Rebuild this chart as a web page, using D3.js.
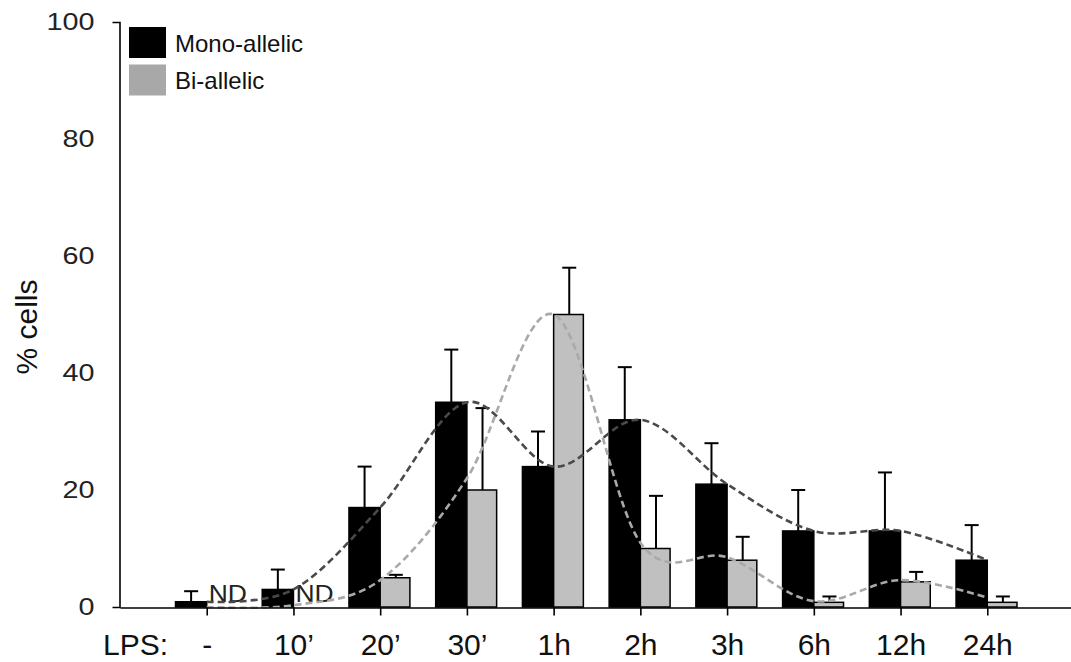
<!DOCTYPE html>
<html>
<head>
<meta charset="utf-8">
<script src="https://cdn.jsdelivr.net/npm/d3@7"></script>
<style>
  html, body { margin: 0; padding: 0; background: #fff; }
  svg { display: block; font-family: "Liberation Sans", Arial, sans-serif; }
</style>
</head>
<body>
<svg id="chart" width="1071" height="662"></svg>
<script>
// LPS stimulation time points
const categories = ["-", "10\u2019", "20\u2019", "30\u2019", "1h", "2h", "3h", "6h", "12h", "24h"];

// % cells with mono-allelic expression (mean and upper error)
const monoValues = [0.9, 3, 17, 35, 24, 32, 21, 13, 13, 8];
const monoErrors = [1.8, 3.4, 7, 9, 6, 9, 7, 7, 10, 6];

// % cells with bi-allelic expression (null = not determined)
const biValues = [null, null, 5, 20, 50, 10, 8, 0.8, 4.3, 0.8];
const biErrors = [null, null, 0.5, 14, 8, 9, 4, 1, 1.7, 1];

// smoothed trend lines drawn over the bars
const monoTrend = [0.9, 3, 17, 35, 24, 32, 21, 13, 13, 8];
const biTrend = [0, 0.3, 4.6, 22, 50, 11, 8.5, 1, 4.6, 1.6];

const yTicks = [0, 20, 40, 60, 80, 100];

const svg = d3.select("#chart");

const x = d3.scalePoint().domain(categories).range([120, 1074]).padding(1);
const y = d3.scaleLinear().domain([0, 100]).range([607, 22]);
const step = x.step();
const barW = step * 0.36;

const BLACK = "#000";
const GREY = "#c0c0c0";

// bars
const gBars = svg.append("g");
gBars.selectAll("rect.mono")
  .data(categories)
  .join("rect")
  .attr("class", "mono")
  .attr("x", (d) => x(d) - barW)
  .attr("y", (d, i) => y(monoValues[i]))
  .attr("width", barW)
  .attr("height", (d, i) => y(0) - y(monoValues[i]))
  .attr("fill", BLACK)
  .attr("stroke", "#000")
  .attr("stroke-width", 1.5);

const biIdx = categories.map((d, i) => i).filter((i) => biValues[i] != null);
gBars.selectAll("rect.bi")
  .data(biIdx)
  .join("rect")
  .attr("class", "bi")
  .attr("x", (i) => x(categories[i]))
  .attr("y", (i) => y(biValues[i]))
  .attr("width", barW - 1.5)
  .attr("height", (i) => y(0) - y(biValues[i]))
  .attr("fill", GREY)
  .attr("stroke", "#000")
  .attr("stroke-width", 1.5);

// error bars (upper whisker only)
const capW = 14;
function whiskers(cls, idx, cx, vals, errs) {
  const g = svg.append("g").attr("class", cls)
    .attr("stroke", "#000").attr("stroke-width", 2);
  g.selectAll("line.v").data(idx).join("line").attr("class", "v")
    .attr("x1", cx).attr("x2", cx)
    .attr("y1", (i) => y(vals[i])).attr("y2", (i) => y(vals[i] + errs[i]));
  g.selectAll("line.c").data(idx).join("line").attr("class", "c")
    .attr("x1", (i) => cx(i) - capW / 2).attr("x2", (i) => cx(i) + capW / 2)
    .attr("y1", (i) => y(vals[i] + errs[i])).attr("y2", (i) => y(vals[i] + errs[i]));
}
whiskers("err-mono", categories.map((d, i) => i), (i) => x(categories[i]) - barW / 2, monoValues, monoErrors);
whiskers("err-bi", biIdx, (i) => x(categories[i]) + barW / 2, biValues, biErrors);

// ND labels where bi-allelic was not determined
svg.append("g").selectAll("text")
  .data(categories.map((d, i) => i).filter((i) => biValues[i] == null))
  .join("text")
  .attr("x", (i) => x(categories[i]) + 2)
  .attr("y", 602)
  .attr("font-size", 23)
  .attr("fill", "#222")
  .attr("transform-origin", (i) => `${x(categories[i]) + 2} 602`)
  .attr("transform", "scale(1.15,1)")
  .text("ND");

// trend curves
const line = (vals) => d3.line()
  .x((d, i) => x(categories[i]))
  .y((d) => y(d))
  .curve(d3.curveCatmullRom.alpha(0))(vals);

svg.append("path")
  .attr("d", line(biTrend))
  .attr("fill", "none")
  .attr("stroke", "#a9a9a9")
  .attr("stroke-width", 2.6)
  .attr("stroke-dasharray", "7,4");

svg.append("path")
  .attr("d", line(monoTrend))
  .attr("fill", "none")
  .attr("stroke", "#4a4a4a")
  .attr("stroke-width", 2.6)
  .attr("stroke-dasharray", "7,4");

// y axis
const yAxis = svg.append("g")
  .attr("transform", "translate(119.5,0)")
  .call(d3.axisLeft(y).tickValues(yTicks).tickSizeInner(0).tickSizeOuter(7).tickPadding(0));
yAxis.select(".domain").attr("stroke", "#000").attr("stroke-width", 1.6);
yAxis.selectAll(".tick line").remove();
yAxis.selectAll(".tick text")
  .attr("x", 0)
  .style("font-size", "23px")
  .attr("fill", "#222")
  .attr("font-family", "Liberation Sans, Arial, sans-serif")
  .attr("transform", "translate(-25,0) scale(1.25,1)");

// x axis
const xAxis = svg.append("g")
  .attr("transform", "translate(0,607.5)")
  .call(d3.axisBottom(x).tickSizeInner(8).tickSizeOuter(0).tickPadding(18));
xAxis.select(".domain").attr("stroke", "#000").attr("stroke-width", 1.6);
xAxis.selectAll(".tick line").attr("stroke", "#000").attr("stroke-width", 1.6);
xAxis.selectAll(".tick text")
  .style("font-size", "30px")
  .attr("fill", "#111")
  .attr("font-family", "Liberation Sans, Arial, sans-serif");

svg.append("text")
  .attr("x", 103)
  .attr("y", 655)
  .attr("font-size", 30)
  .attr("fill", "#111")
  .text("LPS:");

// y axis title
svg.append("text")
  .attr("transform", "translate(37,327) rotate(-90)")
  .attr("text-anchor", "middle")
  .attr("font-size", 30)
  .attr("fill", "#111")
  .text("% cells");

// legend
const legend = [
  { label: "Mono-allelic", color: "#000" },
  { label: "Bi-allelic", color: "#a8a8a8" }
];
const lg = svg.append("g");
lg.selectAll("rect").data(legend).join("rect")
  .attr("x", 129).attr("y", (d, i) => 27 + i * 37.5)
  .attr("width", 37).attr("height", 31)
  .attr("fill", (d) => d.color);
lg.selectAll("text").data(legend).join("text")
  .attr("x", 175).attr("y", (d, i) => 52 + i * 37)
  .attr("font-size", 24)
  .attr("fill", "#111")
  .text((d) => d.label);
</script>
</body>
</html>
